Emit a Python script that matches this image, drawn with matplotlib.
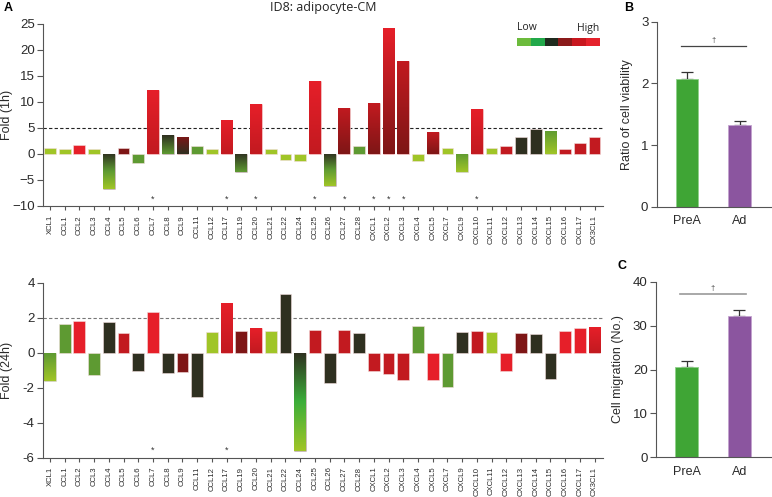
import numpy as np
import matplotlib
matplotlib.use('Agg')
import matplotlib.pyplot as plt
from matplotlib.colors import LinearSegmentedColormap

plt.rcParams['font.family'] = ['Liberation Sans', 'DejaVu Sans']

# ---- data ----
genes = ['XCL1', 'CCL1', 'CCL2', 'CCL3', 'CCL4', 'CCL5', 'CCL6', 'CCL7', 'CCL8', 'CCL9',
         'CCL11', 'CCL12', 'CCL17', 'CCL19', 'CCL20', 'CCL21', 'CCL22', 'CCL24', 'CCL25',
         'CCL26', 'CCL27', 'CCL28', 'CXCL1', 'CXCL2', 'CXCL3', 'CXCL4', 'CXCL5', 'CXCL7',
         'CXCL9', 'CXCL10', 'CXCL11', 'CXCL12', 'CXCL13', 'CXCL14', 'CXCL15', 'CXCL16',
         'CXCL17', 'CX3CL1']

fold_1h = [1.1, 1.0, 1.65, 1.0, -6.8, 1.1, -1.8, 12.4, 3.6, 3.3,
           1.6, 1.0, 6.5, -3.5, 9.6, 1.0, -1.2, -1.4, 14.0,
           -6.2, 8.85, 1.6, 9.8, 24.2, 17.9, -1.4, 4.2, 1.15,
           -3.5, 8.7, 1.1, 1.6, 3.2, 4.8, 4.5, 1.0, 2.2, 3.2]

fold_24h = [-1.6, 1.66, 1.81, -1.28, 1.75, 1.12, -1.07, 2.3, -1.16, -1.12,
            -2.55, 1.18, 2.84, 1.22, 1.43, 1.22, 3.33, -5.63, 1.28,
            -1.73, 1.28, 1.1, -1.07, -1.2, -1.54, 1.5, -1.54, -1.96,
            1.18, 1.24, 1.18, -1.07, 1.14, 1.07, -1.49, 1.22, 1.39, 1.47]

star_1h = ['CCL7', 'CCL17', 'CCL20', 'CCL25', 'CCL27', 'CXCL1', 'CXCL2', 'CXCL3', 'CXCL10']
star_24h = ['CCL7', 'CCL17']

groups = ['PreA', 'Ad']
viability = [2.07, 1.32]
viability_err = [0.11, 0.07]
migration = [20.5, 32.1]
migration_err = [1.4, 1.5]

# ---- colours ----
LG = '#a0c527'
MG = '#5e9a32'
G = '#3cae3a'
DK = '#2f3020'
DR = '#7e1616'
R = '#c21a20'
BR = '#e61f29'

# gradient stops, top -> bottom of each bar
col_1h = [[LG], [LG], [BR], [LG], [DK, MG, LG], [DR], [MG], [BR, R], [DK, MG], [DR, DK],
          [MG], [LG], [BR, R], [DK, MG], [BR, R], [LG], [LG], [LG], [BR, R],
          [DK, MG, LG], [R, DR], [MG], [R, DR], [BR, DR], [R, DR], [LG], [R, DR], [LG],
          [MG, LG], [BR, R], [LG], [R], [DK], [DK], [MG, LG], [R], [R], [R]]

col_24h = [[MG, LG], [MG], [BR], [MG], [DK], [R], [DK], [BR], [DK], [DR],
           [DK], [LG], [BR, R], [DR], [BR, R], [LG], [DK], [DK, G, LG], [R],
           [DK], [R], [DK], [R], [R], [R], [MG], [BR], [MG],
           [DK], [R], [LG], [BR], [DR], [DK], [DK], [BR], [BR], [BR, R]]


def gradient_bars(ax, x, vals, stops):
    bars = ax.bar(x, vals, width=0.8, color=[s[0] for s in stops],
                  edgecolor='#f3dede', linewidth=0.4, zorder=2)
    for b, st in zip(bars, stops):
        if len(st) > 1:
            cmap = LinearSegmentedColormap.from_list('g', st)
            x0, w = b.get_x(), b.get_width()
            y0, h = b.get_y(), b.get_height()
            im = ax.imshow(np.linspace(0, 1, 100).reshape(-1, 1), cmap=cmap,
                           extent=(x0, x0 + w, min(y0, y0 + h), max(y0, y0 + h)),
                           origin='upper', aspect='auto', zorder=2.1,
                           interpolation='bilinear')
            im.set_clip_path(b)
    return bars


def style_axes(ax):
    for s in ['top', 'right']:
        ax.spines[s].set_visible(False)
    for s in ['left', 'bottom']:
        ax.spines[s].set_color('#555555')
        ax.spines[s].set_linewidth(0.8)
    ax.tick_params(colors='#555555', labelcolor='#2a2a2a', length=4, width=0.8)


fig = plt.figure(figsize=(7.72, 4.97), dpi=100)
W, H = 772, 497


def add_ax(l, t, r, b):
    return fig.add_axes([l / W, 1 - b / H, (r - l) / W, (b - t) / H])


x = np.arange(len(genes))

# ---- A: 1h ----
ax1 = add_ax(43, 24, 603, 206)
gradient_bars(ax1, x, fold_1h, col_1h)
ax1.axhline(5, color='#222222', lw=0.8, ls=(0, (3, 2)), zorder=1)
for g in star_1h:
    ax1.text(genes.index(g), -8.7, '*', ha='center', va='center', fontsize=6.5, color='#333333')
ax1.set_xlim(-0.47, 37.57)
ax1.set_ylim(-10, 25)
ax1.set_yticks(range(-10, 26, 5))
ax1.set_xticks(x)
ax1.set_xticklabels(genes, rotation=90, fontsize=5.6)
ax1.tick_params(axis='y', labelsize=9.5, pad=2)
style_axes(ax1)
ax1.tick_params(axis='x', length=3)
ax1.set_ylabel('Fold (1h)', fontsize=9, color='#2a2a2a')
ax1.yaxis.set_label_coords(-0.054, 0.5)

# ---- A: 24h ----
ax2 = add_ax(43, 282.7, 603, 457.5)
gradient_bars(ax2, x, fold_24h, col_24h)
ax2.axhline(2, color='#777777', lw=0.8, ls=(0, (3, 2)), zorder=1)
for g in star_24h:
    ax2.text(genes.index(g), -5.6, '*', ha='center', va='center', fontsize=6.5, color='#333333')
ax2.set_xlim(-0.47, 37.57)
ax2.set_ylim(-6, 4)
ax2.set_yticks(range(-6, 5, 2))
ax2.set_yticklabels([str(v) for v in range(-6, 5, 2)])
ax2.set_xticks(x)
ax2.set_xticklabels(genes, rotation=90, fontsize=5.6)
ax2.tick_params(axis='y', labelsize=9.5, pad=2)
style_axes(ax2)
ax2.tick_params(axis='x', length=3)
ax2.set_ylabel('Fold (24h)', fontsize=9, color='#2a2a2a')
ax2.yaxis.set_label_coords(-0.054, 0.5)

# ---- B ----
bar_cols = ['#3fa535', '#8b559f']
axb = add_ax(656.7, 21.7, 772, 206.7)
axb.bar([0, 1], viability, width=0.425, color=bar_cols, edgecolor=['#8fd08a', '#c3a3cf'],
        linewidth=0.6, zorder=2)
axb.errorbar([0, 1], viability, yerr=[[0, 0], viability_err], fmt='none',
             ecolor='#333333', elinewidth=0.9, capsize=4, capthick=0.9, zorder=1)
axb.plot([-0.115, 1.125], [2.6, 2.6], color='#444444', lw=0.9)
axb.text(0.5, 2.64, '\u2020', ha='center', va='bottom', fontsize=5.5, color='#444444')
axb.set_xlim(-0.578, 1.617)
axb.set_ylim(0, 3)
axb.set_yticks([0, 1, 2, 3])
axb.set_xticks([0, 1])
axb.set_xticklabels(groups)
style_axes(axb)
axb.tick_params(axis='x', length=0, labelsize=9, pad=6)
axb.tick_params(axis='y', labelsize=9.5, pad=2)
axb.set_ylabel('Ratio of cell viability', fontsize=9, color='#2a2a2a')
axb.yaxis.set_label_coords(-0.205, 0.5)

# ---- C ----
axc = add_ax(656, 281.7, 772, 457.3)
axc.bar([0, 1], migration, width=0.425, color=bar_cols, edgecolor=['#8fd08a', '#c3a3cf'],
        linewidth=0.6, zorder=2)
axc.errorbar([0, 1], migration, yerr=[[0, 0], migration_err], fmt='none',
             ecolor='#333333', elinewidth=0.9, capsize=4, capthick=0.9, zorder=1)
axc.plot([-0.115, 1.125], [37.3, 37.3], color='#999999', lw=1.2)
axc.text(0.5, 37.7, '\u2020', ha='center', va='bottom', fontsize=5.5, color='#444444')
axc.set_xlim(-0.578, 1.617)
axc.set_ylim(0, 40)
axc.set_yticks([0, 10, 20, 30, 40])
axc.set_xticks([0, 1])
axc.set_xticklabels(groups)
style_axes(axc)
axc.tick_params(axis='x', length=0, labelsize=9, pad=6)
axc.tick_params(axis='y', labelsize=9.5, pad=2)
axc.set_ylabel('Cell migration (No.)', fontsize=9, color='#2a2a2a')
axc.yaxis.set_label_coords(-0.275, 0.5)

# ---- legend strip ----
axl = add_ax(516.5, 38.3, 599.3, 45.7)
leg_cols = ['#6cbb3c', '#22a84a', '#1f2b1e', '#8a1a1a', '#c8171f', '#e5222c']
axl.imshow(np.arange(6).reshape(1, -1), cmap=matplotlib.colors.ListedColormap(leg_cols),
           aspect='auto', interpolation='nearest')
axl.axis('off')
fig.text(516.5 / W, 1 - 28 / H, 'Low', fontsize=7.5, family='Open Sans', va='center', ha='left',
         color='#222222')
fig.text(599.3 / W, 1 - 28 / H, 'High', fontsize=7.5, family='Open Sans', va='center', ha='right',
         color='#222222')

# ---- titles / panel labels ----
fig.text(323 / W, 1 - 8 / H, 'ID8: adipocyte-CM', fontsize=9, family='Open Sans',
         ha='center', va='center', color='#222222')
fig.text(4 / W, 1 - 8 / H, 'A', fontsize=9, fontweight='bold', ha='left', va='center')
fig.text(624 / W, 1 - 8 / H, 'B', fontsize=9, fontweight='bold', ha='left', va='center')
fig.text(617 / W, 1 - 266 / H, 'C', fontsize=9, fontweight='bold', ha='left', va='center')

fig.savefig('out.png', dpi=100)
